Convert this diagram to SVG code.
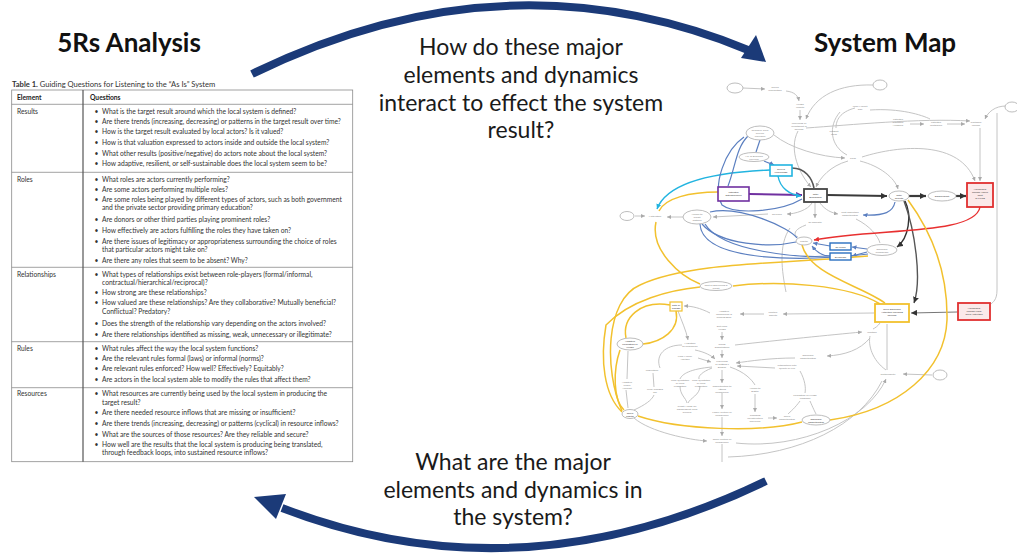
<svg xmlns="http://www.w3.org/2000/svg" width="1017" height="554" viewBox="0 0 1017 554">
<style>
  .ttl{font-family:Lato,"Open Sans",sans-serif;font-weight:700;font-size:26px;fill:#111;text-anchor:middle}
  .q{font-family:Lato,"Open Sans",sans-serif;font-size:23px;fill:#1a1a1a;text-anchor:middle}
  .tb{font-family:Lato,"Open Sans",sans-serif;font-size:6.7px;fill:#333}
  .tbb{font-family:Lato,"Open Sans",sans-serif;font-size:6.7px;fill:#222;font-weight:700}
  .cap{font-family:Lato,"Open Sans",sans-serif;font-size:7.6px;fill:#333}
  .grid{stroke:#8a8a8a;stroke-width:0.8;fill:none}
  .arc{stroke:#1b3a78;stroke-width:8;fill:none;stroke-linecap:butt}
  .head{fill:#1b3a78}
  .g{stroke:#bdbdbd;stroke-width:0.9;fill:none}
  .y{stroke:#f2c12e;stroke-width:1.5;fill:none}
  .b{stroke:#5b7fc0;stroke-width:1.2;fill:none}
  .k{stroke:#3a3a3a;stroke-width:2.2;fill:none}
  .lbl{font-family:Lato,"Open Sans",sans-serif;font-size:2.6px;fill:#8a8a8a;text-anchor:middle}
  .lblk{font-family:Lato,"Open Sans",sans-serif;font-size:2.6px;fill:#444;text-anchor:middle}
  .gn{fill:#fff;stroke:#b5b5b5;stroke-width:0.9}
</style>
<defs>
  <marker id="ag" markerUnits="userSpaceOnUse" markerWidth="4" markerHeight="4" refX="4" refY="2" orient="auto"><path d="M0,0 L4,2 L0,4 z" fill="#aaa"/></marker>
  <marker id="ak" markerUnits="userSpaceOnUse" markerWidth="6" markerHeight="6" refX="6" refY="3" orient="auto"><path d="M0,0 L6,3 L0,6 z" fill="#333"/></marker>
  <marker id="ap" markerUnits="userSpaceOnUse" markerWidth="6" markerHeight="6" refX="6" refY="3" orient="auto"><path d="M0,0 L6,3 L0,6 z" fill="#7030a0"/></marker>
  <marker id="ac" markerUnits="userSpaceOnUse" markerWidth="5" markerHeight="5" refX="5" refY="2.5" orient="auto"><path d="M0,0 L5,2.5 L0,5 z" fill="#22b4e0"/></marker>
  <marker id="ar" markerUnits="userSpaceOnUse" markerWidth="5" markerHeight="5" refX="5" refY="2.5" orient="auto"><path d="M0,0 L5,2.5 L0,5 z" fill="#e83030"/></marker>
  <marker id="ab" markerUnits="userSpaceOnUse" markerWidth="4.5" markerHeight="4.5" refX="4.5" refY="2.25" orient="auto"><path d="M0,0 L4.5,2.25 L0,4.5 z" fill="#5b7fc0"/></marker>
</defs>

<rect width="1017" height="554" fill="#fff"/>

<!-- headings -->
<text class="ttl" x="129" y="52">5Rs Analysis</text>
<text class="ttl" x="885" y="52">System Map</text>

<!-- cycle arrows -->
<g id="cycle-arrows">
  <path class="arc" d="M252,74 Q505,-50 748,50"/>
  <path class="head" d="M766,62 L741,58 L756,35 z"/>
  <path class="arc" d="M766,481 Q520,600 282,508"/>
  <path class="head" d="M254,497 L286,494 L276,519 z"/>
</g>

<!-- guiding questions -->
<g id="question-top">
  <text class="q" x="521" y="55">How do these major</text>
  <text class="q" x="521" y="83">elements and dynamics</text>
  <text class="q" x="521" y="111">interact to effect the system</text>
  <text class="q" x="521" y="138">result?</text>
</g>
<g id="question-bottom">
  <text class="q" x="513" y="470">What are the major</text>
  <text class="q" x="513" y="498">elements and dynamics in</text>
  <text class="q" x="513" y="525">the system?</text>
</g>

<!-- Table 1 -->
<g id="table">
  <text class="cap" x="12" y="86.5"><tspan font-weight="700">Table 1.</tspan> Guiding Questions for Listening to the “As Is” System</text>
  <rect class="grid" x="11.7" y="90" width="341" height="371.7" stroke="#666"/>
  <line class="grid" x1="11.7" y1="104.3" x2="352.7" y2="104.3"/>
  <line class="grid" x1="11.7" y1="172.3" x2="352.7" y2="172.3"/>
  <line class="grid" x1="11.7" y1="267.3" x2="352.7" y2="267.3"/>
  <line class="grid" x1="11.7" y1="341.7" x2="352.7" y2="341.7"/>
  <line class="grid" x1="11.7" y1="387.7" x2="352.7" y2="387.7"/>
  <line x1="83" y1="90" x2="83" y2="461.7" stroke="#555" stroke-width="1.2"/>

  <text class="tbb" x="17" y="100">Element</text>
  <text class="tbb" x="90" y="100">Questions</text>

  <text class="tb" x="17" y="114">Results</text>
  <g class="tb">
    <text x="94.5" y="114">•</text><text x="102" y="114">What is the target result around which the local system is defined?</text>
    <text x="94.5" y="124.3">•</text><text x="102" y="124.3">Are there trends (increasing, decreasing) or patterns in the target result over time?</text>
    <text x="94.5" y="134.3">•</text><text x="102" y="134.3">How is the target result evaluated by local actors?  Is it valued?</text>
    <text x="94.5" y="145.3">•</text><text x="102" y="145.3">How is that valuation expressed to actors inside and outside the local system?</text>
    <text x="94.5" y="156">•</text><text x="102" y="156">What other results (positive/negative) do actors note about the local system?</text>
    <text x="94.5" y="166.3">•</text><text x="102" y="166.3">How adaptive, resilient, or self-sustainable does the local system seem to be?</text>
  </g>

  <text class="tb" x="17" y="181.7">Roles</text>
  <g class="tb">
    <text x="94.5" y="181.7">•</text><text x="102" y="181.7">What roles are actors currently performing?</text>
    <text x="94.5" y="192">•</text><text x="102" y="192">Are some actors performing multiple roles?</text>
    <text x="94.5" y="202">•</text><text x="102" y="202">Are some roles being played by different types of actors, such as both government</text>
    <text x="102" y="209.7">and the private sector providing primary education?</text>
    <text x="94.5" y="222">•</text><text x="102" y="222">Are donors or other third parties playing prominent roles?</text>
    <text x="94.5" y="232.7">•</text><text x="102" y="232.7">How effectively are actors fulfilling the roles they have taken on?</text>
    <text x="94.5" y="243.7">•</text><text x="102" y="243.7">Are there issues of legitimacy or appropriateness surrounding the choice of roles</text>
    <text x="102" y="252">that particular actors might take on?</text>
    <text x="94.5" y="263.3">•</text><text x="102" y="263.3">Are there any roles that seem to be absent? Why?</text>
  </g>

  <text class="tb" x="17" y="277">Relationships</text>
  <g class="tb">
    <text x="94.5" y="277">•</text><text x="102" y="277">What types of relationships exist between role-players (formal/informal,</text>
    <text x="102" y="285.3">contractual/hierarchical/reciprocal)?</text>
    <text x="94.5" y="295.3">•</text><text x="102" y="295.3">How strong are these relationships?</text>
    <text x="94.5" y="305.3">•</text><text x="102" y="305.3">How valued are these relationships? Are they collaborative? Mutually beneficial?</text>
    <text x="102" y="314.3">Conflictual? Predatory?</text>
    <text x="94.5" y="326">•</text><text x="102" y="326">Does the strength of the relationship vary depending on the actors involved?</text>
    <text x="94.5" y="337">•</text><text x="102" y="337">Are there relationships identified as missing, weak, unnecessary or illegitimate?</text>
  </g>

  <text class="tb" x="17" y="351.3">Rules</text>
  <g class="tb">
    <text x="94.5" y="351.3">•</text><text x="102" y="351.3">What rules affect the way the local system functions?</text>
    <text x="94.5" y="360.7">•</text><text x="102" y="360.7">Are the relevant rules formal (laws) or informal (norms)?</text>
    <text x="94.5" y="371">•</text><text x="102" y="371">Are relevant rules enforced?  How well? Effectively? Equitably?</text>
    <text x="94.5" y="382">•</text><text x="102" y="382">Are actors in the local system able to modify the rules that affect them?</text>
  </g>

  <text class="tb" x="17" y="396">Resources</text>
  <g class="tb">
    <text x="94.5" y="396">•</text><text x="102" y="396">What resources are currently being used by the local system in producing the</text>
    <text x="102" y="404.7">target result?</text>
    <text x="94.5" y="415.3">•</text><text x="102" y="415.3">Are there needed resource inflows that are missing or insufficient?</text>
    <text x="94.5" y="426">•</text><text x="102" y="426">Are there trends (increasing, decreasing) or patterns (cyclical) in resource inflows?</text>
    <text x="94.5" y="437">•</text><text x="102" y="437">What are the sources of those resources? Are they reliable and secure?</text>
    <text x="94.5" y="447">•</text><text x="102" y="447">How well are the results that the local system is producing being translated,</text>
    <text x="102" y="455.3">through feedback loops, into sustained resource inflows?</text>
  </g>
</g>

<!-- system map: connectors -->
<g id="map-connectors">
  <!-- grey causal links -->
  <path class="g" d="M743,88 L765,89" marker-end="url(#ag)"/>
  <path class="g" d="M786,91 C795,92 798,96 799,101" marker-end="url(#ag)"/>
  <path class="g" d="M800,110 L800,120" marker-end="url(#ag)"/>
  <path class="g" d="M873,85 C840,84 815,95 806,119" marker-end="url(#ag)"/>
  <path class="g" d="M855,108 C840,112 836,120 836,128"/>
  <path class="g" d="M870,110 C900,108 922,115 930,119"/>
  <path class="g" d="M806,128 C850,125 920,118 970,121" marker-end="url(#ag)"/>
  <path class="g" d="M910,124 L924,124" marker-end="url(#ag)"/>
  <path class="g" d="M947,124 L965,124" marker-end="url(#ag)"/>
  <path class="g" d="M1006,106 C995,106 988,112 985,119" marker-end="url(#ag)"/>
  <path class="g" d="M980,128 L980,181" marker-end="url(#ag)"/>
  <path class="g" d="M997,113 L997,290 C997,300 993,302 991,304"/>
  <path class="g" d="M774,135 C790,148 820,157 845,158" marker-end="url(#ag)"/>
  <path class="g" d="M848,161 C830,166 820,178 816,187" marker-end="url(#ag)"/>
  <path class="g" d="M860,161 C880,166 895,178 898,189" marker-end="url(#ag)"/>
  <path class="g" d="M840,112 C828,126 830,146 847,155"/>
  <path class="g" d="M862,157 C900,145 960,140 975,181" marker-end="url(#ag)"/>
  <path class="g" d="M798,131 C788,150 800,175 811,187" marker-end="url(#ag)"/>
  <path class="g" d="M812,203 C808,210 795,214 787,214" marker-end="url(#ag)"/>
  <path class="g" d="M815,203 L815,218" marker-end="url(#ag)"/>
  <path class="g" d="M820,203 C825,210 832,213 838,214" marker-end="url(#ag)"/>
  <path class="g" d="M768,214 L713,217" marker-end="url(#ag)"/>
  <path class="g" d="M683,217 L667,217" marker-end="url(#ag)"/>
  <path class="g" d="M635,216 L645,216" marker-end="url(#ag)"/>
  <path class="g" d="M806,225 C792,230 794,236 798,237"/>
  <path class="g" d="M856,219 C870,226 878,236 880,243"/>
  <path class="g" d="M790,228 C778,245 782,272 786,292"/>
  <path class="g" d="M874,313 L783,314" marker-end="url(#ag)"/>
  <path class="g" d="M764,314 L740,314" marker-end="url(#ag)"/>
  <path class="g" d="M710,313 C700,308 692,306 684,306" marker-end="url(#ag)"/>
  <path class="g" d="M678,311 C682,322 686,330 688,340" marker-end="url(#ag)"/>
  <path class="g" d="M722,332 L722,340" marker-end="url(#ag)"/>
  <path class="g" d="M722,350 L722,358" marker-end="url(#ag)"/>
  <path class="g" d="M695,350 C705,352 712,356 715,359" marker-end="url(#ag)"/>
  <path class="g" d="M735,345 C780,340 830,335 862,332" marker-end="url(#ag)"/>
  <path class="g" d="M870,338 C860,350 845,355 827,356" marker-end="url(#ag)"/>
  <path class="g" d="M795,358 C770,358 750,361 736,363" marker-end="url(#ag)"/>
  <path class="g" d="M698,358 L711,362" marker-end="url(#ag)"/>
  <path class="g" d="M775,368 L737,366" marker-end="url(#ag)"/>
  <path class="g" d="M722,370 L722,383" marker-end="url(#ag)"/>
  <path class="g" d="M712,368 C702,372 698,376 699,379"/>
  <path class="g" d="M712,367 C690,369 682,374 680,379"/>
  <path class="g" d="M653,373 L654,387"/>
  <path class="g" d="M680,386 C680,395 686,398 687,403"/>
  <path class="g" d="M700,386 C700,395 690,398 688,403"/>
  <path class="g" d="M722,393 L722,409" marker-end="url(#ag)"/>
  <path class="g" d="M755,394 L755,412" marker-end="url(#ag)"/>
  <path class="g" d="M730,367 C745,372 752,380 755,385"/>
  <path class="g" d="M800,371 C805,380 806,388 805,393"/>
  <path class="g" d="M800,401 C795,408 790,412 788,414"/>
  <path class="g" d="M810,401 C813,408 815,412 816,414"/>
  <path class="g" d="M768,418 L777,418" marker-end="url(#ag)"/>
  <path class="g" d="M722,417 L722,436" marker-end="url(#ag)"/>
  <path class="g" d="M722,444 L722,462"/>
  <path class="g" d="M634,418 C650,432 690,440 707,441" marker-end="url(#ag)"/>
  <path class="g" d="M736,443 C800,450 868,420 886,379" marker-end="url(#ag)"/>
  <path class="g" d="M728,457 C800,455 860,425 882,381"/>
  <path class="g" d="M932,375 L903,374" marker-end="url(#ag)"/>
  <path class="g" d="M887,370 L887,324"/>
  <path class="g" d="M886,370 C872,360 868,345 870,336"/>
  <path class="g" d="M880,323 C878,326 875,328 873,329"/>
  <path class="g" d="M628,351 L627,379"/>
  <path class="g" d="M634,410 C645,405 652,400 654,395"/>
  <path class="g" d="M626,390 L628,408"/>
  <path class="g" d="M660,368 C655,355 665,345 682,345"/>

  <!-- main chain -->
  <path d="M749,194 L802,195" stroke="#7030a0" stroke-width="2" fill="none" marker-end="url(#ap)"/>
  <path class="k" d="M827,195 L887,196" marker-end="url(#ak)"/>
  <path class="k" d="M909,196 L926,196" marker-end="url(#ak)"/>
  <path class="k" d="M956,196 L966,196" marker-end="url(#ak)"/>
  <path d="M792,168 C805,168 812,178 814,188" stroke="#555" stroke-width="1.6" fill="none"/>
  <path d="M905,201 C912,215 909,238 897,247" stroke="#333" stroke-width="1.4" fill="none" marker-end="url(#ak)"/>
  <path d="M904,201 C915,230 922,280 914,303" stroke="#555" stroke-width="1.4" fill="none" marker-end="url(#ak)"/>
  <path d="M957,312 L911,313" stroke="#666" stroke-width="0.9" fill="none" marker-end="url(#ak)"/>

  <!-- cyan -->
  <path d="M778,176 C780,188 790,195 801,196" stroke="#22b4e0" stroke-width="1.4" fill="none" marker-end="url(#ac)"/>
  <path d="M770,170 C720,172 668,180 657,209" stroke="#22b4e0" stroke-width="1.4" fill="none" marker-end="url(#ac)"/>

  <!-- blue -->
  <path class="b" d="M760,140 L756,152"/>
  <path class="b" d="M764,161 C768,163 772,164 774,165" marker-end="url(#ab)"/>
  <path class="b" d="M748,136 C736,148 736,165 728,186"/>
  <path class="b" d="M744,137 C725,150 712,185 722,205 C735,215 780,212 802,199"/>
  <path class="b" d="M702,224 C720,245 770,248 796,242"/>
  <path class="b" d="M700,224 C702,262 800,262 868,254"/>
  <path class="b" d="M705,224 C722,252 800,258 830,256"/>
  <path class="b" d="M710,212 C740,205 790,228 797,238"/>
  <path class="b" d="M830,246 L813,243" marker-end="url(#ab)"/>
  <path class="b" d="M830,256 C820,256 815,250 812,246" marker-end="url(#ab)"/>
  <path class="b" d="M867,249 L852,247" marker-end="url(#ab)"/>
  <path class="b" d="M867,252 L852,256" marker-end="url(#ab)"/>
  <path class="b" d="M895,202 C893,212 885,216 863,215" marker-end="url(#ab)"/>

  <!-- red -->
  <path d="M980,207 C975,235 880,228 814,240" stroke="#e83030" stroke-width="1.4" fill="none" marker-end="url(#ar)"/>

  <!-- yellow -->
  <path class="y" d="M718,192 C690,192 665,198 659,211"/>
  <path class="y" d="M656,222 C650,250 680,276 700,284"/>
  <path class="y" d="M868,256 C780,264 690,262 640,285 C605,300 604,370 622,411"/>
  <path class="y" d="M700,287 C670,290 630,300 606,325 C600,360 604,395 622,412"/>
  <path class="y" d="M676,311 C680,330 662,342 643,344"/>
  <path class="y" d="M670,305 C640,300 622,318 626,338"/>
  <path class="y" d="M620,350 C613,370 613,400 624,410"/>
  <path class="y" d="M638,416 C680,430 760,433 802,422"/>
  <path class="y" d="M830,420 C900,410 945,370 947,320 C948,270 930,230 908,200"/>
  <path class="y" d="M802,245 C810,275 860,285 885,303"/>
  <path class="y" d="M880,304 C850,285 780,280 733,286"/>
</g>

<!-- system map: nodes -->
<g id="node-entrepreneurs"><rect x="718" y="187" width="31" height="14" fill="#fff" stroke="#7030a0" stroke-width="1.6"/><text class="lblk" x="733.5" y="193">Potential<tspan x="733.5" dy="3">Entrepreneurs</tspan></text></g>
<g id="node-businesses"><rect x="804" y="189" width="23" height="13" fill="#fff" stroke="#444" stroke-width="1.8"/><text class="lblk" x="815.5" y="195">Total<tspan x="815.5" dy="3">Businesses</tspan></text></g>
<g id="node-skills"><rect x="770" y="165" width="22" height="11" fill="#fff" stroke="#22b4e0" stroke-width="1.6"/><text class="lblk" x="781" y="170">Skills &amp;<tspan x="781" dy="3">Knowledge</tspan></text></g>
<g id="node-growth"><ellipse cx="899" cy="196" rx="10" ry="5" class="gn" stroke="#888"/><text class="lblk" x="899" y="195.5">Total<tspan x="899" dy="3">Growth</tspan></text></g>
<g id="node-employment"><ellipse cx="942" cy="196" rx="14" ry="5" class="gn" stroke="#888"/><text class="lblk" x="942" y="197">Employment</text></g>
<g id="node-income"><rect x="967" y="183" width="26" height="24" fill="#fbe9e9" stroke="#e03030" stroke-width="1.8"/><text class="lblk" x="980" y="190">Household<tspan x="980" dy="3">Income Above</tspan><tspan x="980" dy="3">Cost</tspan><tspan x="980" dy="3">of Living</tspan></text></g>
<g id="node-income-rural"><rect x="958" y="303" width="32" height="17" fill="#fbe9e9" stroke="#e03030" stroke-width="1.8"/><text class="lblk" x="974" y="309">Household<tspan x="974" dy="3">Income From</tspan><tspan x="974" dy="3">Rural Activities</tspan></text></g>
<g id="node-rural"><rect x="875" y="304" width="34" height="18" fill="#fff" stroke="#f2c12e" stroke-width="1.8"/><text class="lblk" x="892" y="310">Rural Economic<tspan x="892" dy="3">Activities Including</tspan><tspan x="892" dy="3">Tourism</tspan></text></g>
<g id="node-capital"><ellipse cx="804" cy="241" rx="8" ry="4" class="gn" stroke="#7aa0d0"/><text class="lbl" x="804" y="242">Capital</text></g>
<g id="node-loans"><rect x="830" y="243" width="21" height="7" fill="#fff" stroke="#2a6fc0" stroke-width="1.4"/><text class="lblk" x="840.5" y="247.5">Ex Loans</text></g>
<g id="node-dividends"><rect x="830" y="253" width="21" height="7" fill="#fff" stroke="#2a6fc0" stroke-width="1.4"/><text class="lblk" x="840.5" y="257.5">Dividends</text></g>
<g id="node-confidence"><ellipse cx="882" cy="250" rx="15" ry="5.5" class="gn" stroke="#999"/><text class="lbl" x="882" y="249.5">Economic<tspan x="882" dy="3">Confidence</tspan></text></g>
<g id="node-credit"><ellipse cx="697" cy="217" rx="14" ry="7" class="gn" stroke="#8aa0c8"/><text class="lbl" x="697" y="214.5">Access to<tspan x="697" dy="3">Credit</tspan><tspan x="697" dy="3">Options</tspan></text></g>
<g id="node-motivation"><text class="lbl" x="655" y="217">Motivation</text></g>
<g id="node-source-left"><ellipse cx="627" cy="216" rx="7" ry="4.5" class="gn" stroke="#9aa6c0"/></g>
<g id="node-teachers"><ellipse cx="760" cy="133" rx="14" ry="7" class="gn" stroke="#7a96c8"/><text class="lbl" x="760" y="130.5">Teachers' Skills<tspan x="760" dy="3">Service</tspan><tspan x="760" dy="3">Providers</tspan></text></g>
<g id="node-services"><ellipse cx="754" cy="157" rx="15" ry="4.5" class="gn" stroke="#9aaed0"/><text class="lbl" x="754" y="156.5">No. of Business<tspan x="754" dy="3">Services</tspan></text></g>
<g id="node-borrowing"><ellipse cx="716" cy="286" rx="16" ry="4.5" class="gn" stroke="#f2c12e"/><text class="lbl" x="716" y="285.5">Cost of Borrowing &amp;<tspan x="716" dy="3">Credit</tspan></text></g>
<g id="node-change"><rect x="670" y="302" width="12" height="9" fill="#fff" stroke="#f2c12e" stroke-width="1.2"/><text class="lblk" x="676" y="306">Rate of<tspan x="676" dy="3">Change</tspan></text></g>
<g id="node-perception"><ellipse cx="630" cy="344" rx="13" ry="6" class="gn" stroke="#f2c12e"/><text class="lblk" x="630" y="342">Negative<tspan x="630" dy="3">Perception of</tspan><tspan x="630" dy="3">Village</tspan></text></g>
<g id="node-social-capital"><ellipse cx="630" cy="414" rx="8" ry="4.5" class="gn" stroke="#f2c12e"/><text class="lblk" x="630" y="413.5">Social<tspan x="630" dy="3">Capital</tspan></text></g>
<g id="node-opportunities"><ellipse cx="816" cy="420" rx="14" ry="5" class="gn" stroke="#f2c12e"/><text class="lblk" x="816" y="419.5">Economic<tspan x="816" dy="3">Opportunities</tspan></text></g>
<g id="node-src-top1"><ellipse cx="735" cy="88" rx="8" ry="5" class="gn" stroke="#a8b4cc"/></g>
<g id="node-src-top2"><ellipse cx="880" cy="85" rx="7" ry="5" class="gn" stroke="#a8b4cc"/></g>
<g id="node-src-right"><ellipse cx="1012" cy="107" rx="7" ry="5" class="gn" stroke="#a8b4cc"/></g>
<g id="node-src-low"><ellipse cx="940" cy="375" rx="7" ry="5" class="gn" stroke="#a8b4cc"/></g>

<!-- grey variable labels -->
<g id="node-labels">
  <text class="lbl" x="775" y="88">Online<tspan x="775" dy="3">Information</tspan></text>
  <text class="lbl" x="800" y="105">Village<tspan x="800" dy="3">Wealth</tspan></text>
  <text class="lbl" x="799" y="124">Likelihood of<tspan x="799" dy="3">Investment in</tspan><tspan x="799" dy="3">Tourism</tspan></text>
  <text class="lbl" x="860" y="107">Local Market<tspan x="860" dy="3">Size</tspan></text>
  <text class="lbl" x="834" y="132">Product<tspan x="834" dy="3">Sales</tspan></text>
  <text class="lbl" x="898" y="120">Potential<tspan x="898" dy="3">Customer</tspan><tspan x="898" dy="3">Numbers</tspan></text>
  <text class="lbl" x="936" y="123">Potential<tspan x="936" dy="3">Customers</tspan></text>
  <text class="lbl" x="976" y="123">Customer<tspan x="976" dy="3">Income</tspan></text>
  <text class="lbl" x="853" y="159">Sales</text>
  <text class="lbl" x="777" y="215">Revenue</text>
  <text class="lbl" x="815" y="223">Ex Receipts</text>
  <text class="lbl" x="850" y="213">Cost Reduction<tspan x="850" dy="3">Opportunities</tspan></text>
  <text class="lbl" x="724" y="312">Negative<tspan x="724" dy="3">Comparison &amp;</tspan><tspan x="724" dy="3">Coming Back</tspan></text>
  <text class="lbl" x="773" y="313">Positive<tspan x="773" dy="3">Results</tspan></text>
  <text class="lbl" x="722" y="327">Exit from<tspan x="722" dy="3">Village</tspan></text>
  <text class="lbl" x="722" y="345">Rising<tspan x="722" dy="3">Expectations</tspan></text>
  <text class="lbl" x="690" y="344">Migration<tspan x="690" dy="3">to Commerce</tspan></text>
  <text class="lbl" x="808" y="356">Economic<tspan x="808" dy="3">Opportunities</tspan></text>
  <text class="lbl" x="685" y="357">Farm Money<tspan x="685" dy="3">Abilities</tspan></text>
  <text class="lbl" x="722" y="362">Likelihood<tspan x="722" dy="3">of Getting a</tspan><tspan x="722" dy="3">Degree</tspan></text>
  <text class="lbl" x="787" y="366">Satisfaction with<tspan x="787" dy="3">Quality of Life</tspan></text>
  <text class="lbl" x="652" y="371">Population</text>
  <text class="lbl" x="680" y="381">Crop Quantities<tspan x="680" dy="3">of Farm</tspan><tspan x="680" dy="3">Production</tspan></text>
  <text class="lbl" x="701" y="381">Crop Quantities<tspan x="701" dy="3">of Farm</tspan><tspan x="701" dy="3">Production</tspan></text>
  <text class="lbl" x="722" y="387">Opportunities to<tspan x="722" dy="3">Attend</tspan><tspan x="722" dy="3">Commercial</tspan></text>
  <text class="lbl" x="755" y="389">Access to<tspan x="755" dy="3">Digital</tspan></text>
  <text class="lbl" x="627" y="383">Negative<tspan x="627" dy="3">Public</tspan><tspan x="627" dy="3">Account</tspan></text>
  <text class="lbl" x="655" y="390">Price Charged<tspan x="655" dy="3">Tax</tspan></text>
  <text class="lbl" x="687" y="407">Credit Needs for<tspan x="687" dy="3">Independent Farm</tspan><tspan x="687" dy="3">Owners</tspan></text>
  <text class="lbl" x="722" y="413">Family Culture of<tspan x="722" dy="3">Compliance</tspan></text>
  <text class="lbl" x="755" y="416">Changing<tspan x="755" dy="3">Infrastructure</tspan><tspan x="755" dy="3">and Rules</tspan></text>
  <text class="lbl" x="787" y="417">Social<tspan x="787" dy="3">Opportunities</tspan></text>
  <text class="lbl" x="722" y="440">Social Culture of<tspan x="722" dy="3">Compliance</tspan></text>
  <text class="lbl" x="888" y="375">Sustainability</text>
  <text class="lbl" x="872" y="333">Inflation</text>
  <text class="lbl" x="805" y="396">Perception of Village<tspan x="805" dy="3">Programs</tspan></text>
</g>
</svg>
